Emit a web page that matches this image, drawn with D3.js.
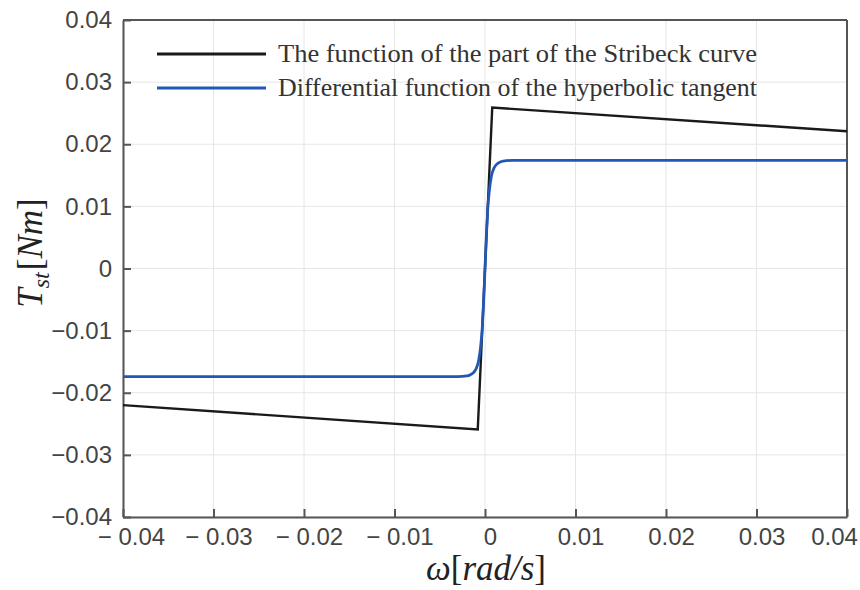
<!DOCTYPE html>
<html><head><meta charset="utf-8">
<script src="https://cdn.jsdelivr.net/npm/d3@7"></script>
<style>body{margin:0;background:#fff}</style>
</head><body>
<svg id="c" width="860" height="590"></svg>
<script>
const xTicks = [-0.04,-0.03,-0.02,-0.01,0,0.01,0.02,0.03,0.04];
const xTickLabels = ["\u2212 0.04","\u2212 0.03","\u2212 0.02","\u2212 0.01","0","0.01","0.02","0.03","0.04"];
const yTicks = [-0.04,-0.03,-0.02,-0.01,0,0.01,0.02,0.03,0.04];
const yTickLabels = ["\u22120.04","\u22120.03","\u22120.02","\u22120.01","0","0.01","0.02","0.03","0.04"];
const seriesNames = ["The function of the part of the Stribeck curve","Differential function of the hyperbolic tangent"];
const stribeckX = [-0.04,-0.0008,0.0008,0.04];
const stribeckY = [-0.0220,-0.0259,0.0259,0.0221];
const tanhX = [-0.04,-0.003,-0.002,-0.0015,-0.001,-0.0007,-0.0005,-0.0003,-0.00015,0,0.00015,0.0003,0.0005,0.0007,0.001,0.0015,0.002,0.003,0.04];
const tanhY = [-0.0174,-0.0174,-0.0173,-0.0170,-0.0162,-0.0148,-0.0128,-0.0095,-0.0052,0,0.0052,0.0095,0.0128,0.0148,0.0162,0.0170,0.0173,0.0174,0.0174];

const svg = d3.select("#c");
const L=123,R=847,T=20,B=517;
const x = d3.scaleLinear().domain([-0.04,0.04]).range([L,R]);
const y = d3.scaleLinear().domain([-0.04,0.04]).range([B,T]);

// grid
svg.append("g").selectAll("line").data(xTicks).join("line")
  .attr("x1",d=>x(d)).attr("x2",d=>x(d)).attr("y1",T).attr("y2",B)
  .attr("stroke","#e6e6e6").attr("stroke-width",1);
svg.append("g").selectAll("line").data(yTicks).join("line")
  .attr("y1",d=>y(d)).attr("y2",d=>y(d)).attr("x1",L).attr("x2",R)
  .attr("stroke","#e6e6e6").attr("stroke-width",1);

// axes
const axCol="#555";
const xa = svg.append("g").attr("transform",`translate(0,${B})`)
  .call(d3.axisBottom(x).tickValues(xTicks).tickSizeInner(-8).tickSizeOuter(0).tickPadding(11)
    .tickFormat((d,i)=>xTickLabels[i]));
const ya = svg.append("g").attr("transform",`translate(${L},0)`)
  .call(d3.axisLeft(y).tickValues(yTicks).tickSizeInner(-8).tickSizeOuter(0).tickPadding(11)
    .tickFormat((d,i)=>yTickLabels[i]));
[xa,ya].forEach(a=>{
  a.select(".domain").attr("stroke",axCol).attr("stroke-width",2);
  a.selectAll(".tick line").attr("stroke",axCol).attr("stroke-width",2);
  a.selectAll("text").attr("fill","#444").attr("font-family","Liberation Sans, Arial, sans-serif").attr("font-size",24);
});
// shift outer x labels like the reference
xa.selectAll(".tick text").attr("dx",(d,i)=> i===0 ? 8 : (i===xTicks.length-1 ? -13 : 5));

// box top/right
svg.append("line").attr("x1",L).attr("x2",R).attr("y1",T).attr("y2",T).attr("stroke",axCol).attr("stroke-width",2);
svg.append("line").attr("x1",R).attr("x2",R).attr("y1",T).attr("y2",B).attr("stroke",axCol).attr("stroke-width",2);

// lines
const line = d3.line().x(d=>x(d[0])).y(d=>y(d[1]));
svg.append("path").datum(stribeckX.map((v,i)=>[v,stribeckY[i]]))
  .attr("d",line).attr("fill","none").attr("stroke","#1a1a1a").attr("stroke-width",2.4);
svg.append("path").datum(tanhX.map((v,i)=>[v,tanhY[i]]))
  .attr("d",line.curve(d3.curveMonotoneX)).attr("fill","none").attr("stroke","#2357b5").attr("stroke-width",2.8);

// legend
const colors=["#1a1a1a","#2357b5"];
seriesNames.forEach((n,i)=>{
  const yy=54+i*34;
  svg.append("line").attr("x1",157).attr("x2",266).attr("y1",yy).attr("y2",yy)
    .attr("stroke",colors[i]).attr("stroke-width",3.2);
  svg.append("text").attr("x",278).attr("y",yy+8).text(n)
    .attr("font-family","Liberation Serif, Times New Roman, serif").attr("font-size",26)
    .attr("textLength",479).attr("lengthAdjust","spacingAndGlyphs").attr("fill","#333");
});

// axis labels
const yl = svg.append("text").attr("transform","translate(42,253) rotate(-90)")
  .attr("text-anchor","middle").attr("font-family","Liberation Serif, Times New Roman, serif")
  .attr("font-style","italic").attr("font-size",35).attr("fill","#222");
yl.append("tspan").text("T");
yl.append("tspan").text("st").attr("font-size",24).attr("dy",7);
yl.append("tspan").text("[").attr("dy",-7).attr("font-style","normal").attr("dx",2);
yl.append("tspan").text("Nm");
yl.append("tspan").text("]").attr("font-style","normal");

const xl = svg.append("text").attr("x",486).attr("y",580)
  .attr("text-anchor","middle").attr("font-family","Liberation Serif, Times New Roman, serif")
  .attr("font-style","italic").attr("font-size",35).attr("fill","#222");
xl.append("tspan").text("\u03c9");
xl.append("tspan").text("[").attr("font-style","normal");
xl.append("tspan").text("rad/s");
xl.append("tspan").text("]").attr("font-style","normal");
</script>
</body></html>
